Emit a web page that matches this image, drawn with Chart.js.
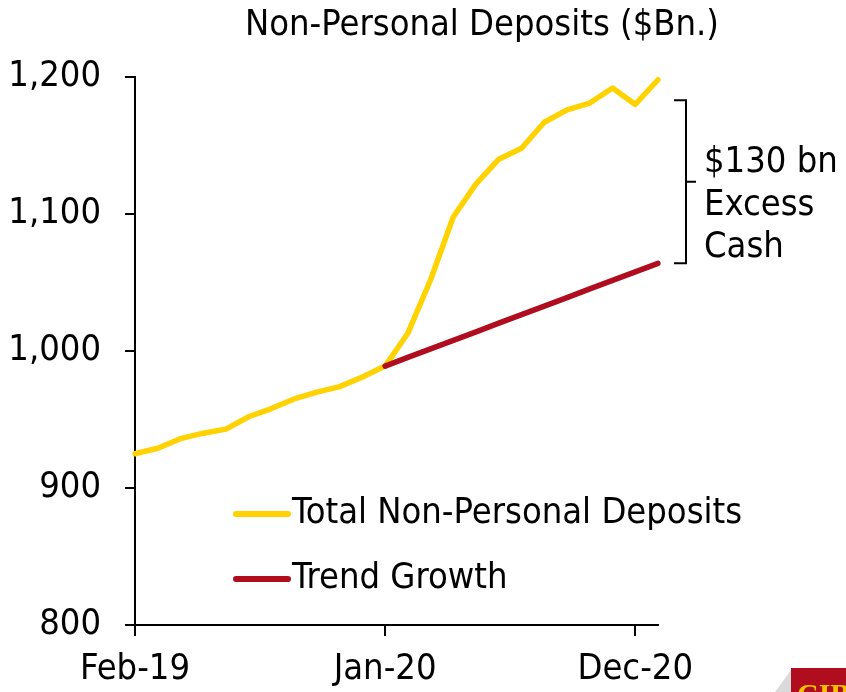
<!DOCTYPE html>
<html>
<head>
<meta charset="utf-8">
<script src="https://cdn.jsdelivr.net/npm/chart.js@4.4.1/dist/chart.umd.min.js"></script>
<style>
  html, body { margin: 0; padding: 0; background: #ffffff; }
  #wrap { position: relative; width: 846px; height: 692px; }
  canvas { display: block; }
</style>
</head>
<body>
<div id="wrap"><canvas id="c" width="846" height="692"></canvas></div>
<script>
// ---- Data ----
const chartTitle = "Non-Personal Deposits ($Bn.)";
const categories = ["Feb-19","Mar-19","Apr-19","May-19","Jun-19","Jul-19","Aug-19","Sep-19","Oct-19","Nov-19","Dec-19",
                    "Jan-20","Feb-20","Mar-20","Apr-20","May-20","Jun-20","Jul-20","Aug-20","Sep-20","Oct-20","Nov-20","Dec-20","Jan-21"];
const shownTickLabels = ["Feb-19","Jan-20","Dec-20"];
const depositsLabel = "Total Non-Personal Deposits";
const depositsValues = [925, 929, 936, 940, 943, 952, 958, 965, 970, 974, 981, 989,
                        1013, 1052, 1098, 1122, 1140, 1148, 1167, 1176, 1181, 1192, 1180, 1198];
const trendLabel = "Trend Growth";
const trendValues = [null, null, null, null, null, null, null, null, null, null, null, 989,
                     995.3, 1001.5, 1007.8, 1014, 1020.3, 1026.5, 1032.8, 1039, 1045.3, 1051.5, 1057.8, 1064];
const yTicks = [800, 900, 1000, 1100, 1200];
const annotationLines = ["$130 bn", "Excess", "Cash"];
const bracketTopValue = 1183;
const logoText = "CIBC";

const FONT = "'DejaVu Sans Condensed', 'DejaVu Sans', sans-serif";
const FSIZE = 36;
const YELLOW = '#FFD200';
const RED = '#B00D1E';

const overlayPlugin = {
  id: 'overlay',
  afterDraw(chart) {
    const ctx = chart.ctx;
    const ys = chart.scales.y;
    ctx.save();
    // title
    ctx.fillStyle = '#000';
    ctx.font = FSIZE + "px " + FONT;
    ctx.textAlign = 'center';
    ctx.textBaseline = 'middle';
    ctx.fillText(chartTitle, 482, 26);

    // legend
    const legendItems = chart.data.datasets.slice().sort((a, b) => a.legendIndex - b.legendIndex);
    legendItems.forEach((ds, i) => {
      const y = 514 + i * 65;
      ctx.strokeStyle = ds.borderColor;
      ctx.lineWidth = 6;
      ctx.lineCap = 'round';
      ctx.beginPath();
      ctx.moveTo(236, y);
      ctx.lineTo(288, y);
      ctx.stroke();
      ctx.fillStyle = '#000';
      ctx.textAlign = 'left';
      ctx.textBaseline = 'middle';
      ctx.font = FSIZE + "px " + FONT;
      ctx.fillText(ds.label, 292, y);
    });

    // bracket annotation
    const yTop = ys.getPixelForValue(bracketTopValue);
    const yBot = ys.getPixelForValue(trendValues[trendValues.length - 1]);
    const yMid = (yTop + yBot) / 2;
    ctx.strokeStyle = '#000';
    ctx.lineWidth = 2;
    ctx.lineCap = 'butt';
    ctx.beginPath();
    ctx.moveTo(674, yTop);
    ctx.lineTo(686, yTop);
    ctx.lineTo(686, yBot);
    ctx.lineTo(674, yBot);
    ctx.moveTo(686, yMid);
    ctx.lineTo(696, yMid);
    ctx.stroke();
    ctx.fillStyle = '#000';
    ctx.textAlign = 'left';
    ctx.textBaseline = 'middle';
    ctx.font = FSIZE + "px " + FONT;
    annotationLines.forEach((t, i) => ctx.fillText(t, 704, yMid - 19 + i * 42.5));

    // logo fragment bottom-right
    ctx.fillStyle = '#DADADA';
    ctx.beginPath();
    ctx.moveTo(775, 692);
    ctx.lineTo(791, 670);
    ctx.lineTo(791, 692);
    ctx.closePath();
    ctx.fill();
    ctx.fillStyle = '#B00D1E';
    ctx.fillRect(791, 668, 55, 24);
    ctx.fillStyle = '#F5C400';
    ctx.font = "bold 30px 'Liberation Serif', serif";
    ctx.textAlign = 'left';
    ctx.textBaseline = 'alphabetic';
    ctx.fillText(logoText, 797, 704);
    ctx.restore();
  }
};

new Chart(document.getElementById('c'), {
  type: 'line',
  data: {
    labels: categories,
    datasets: [
      { label: depositsLabel, data: depositsValues, borderColor: YELLOW, backgroundColor: YELLOW,
        borderWidth: 5.5, pointRadius: 0, tension: 0, order: 2, legendIndex: 0, borderCapStyle: 'round', borderJoinStyle: 'round' },
      { label: trendLabel, data: trendValues, borderColor: RED, backgroundColor: RED,
        borderWidth: 5.5, pointRadius: 0, tension: 0, order: 1, legendIndex: 1, spanGaps: false, borderCapStyle: 'round' }
    ]
  },
  options: {
    responsive: false,
    animation: false,
    events: [],
    layout: { padding: { top: 77, right: 188, bottom: 0, left: 0 } },
    plugins: { legend: { display: false }, title: { display: false }, tooltip: { enabled: false } },
    scales: {
      x: {
        type: 'category',
        offset: false,
        border: { display: true, color: '#000', width: 2 },
        grid: {
          drawOnChartArea: false, drawTicks: true, tickLength: 11, lineWidth: 2,
          color: (c) => shownTickLabels.includes(categories[c.index]) ? '#000' : 'rgba(0,0,0,0)'
        },
        ticks: {
          autoSkip: false, maxRotation: 0, minRotation: 0, padding: 12, color: '#000',
          font: { family: FONT, size: FSIZE },
          callback: (v, i) => shownTickLabels.includes(categories[i]) ? categories[i] : ''
        },
        afterFit: (s) => { s.height = 67; }
      },
      y: {
        min: 800, max: 1200,
        border: { display: true, color: '#000', width: 2 },
        grid: { drawOnChartArea: false, drawTicks: true, tickLength: 10, lineWidth: 2, color: '#000' },
        afterBuildTicks: (s) => { s.ticks = yTicks.map(v => ({ value: v })); },
        ticks: {
          padding: 24, color: '#000',
          font: { family: FONT, size: FSIZE },
          callback: (v) => v.toLocaleString('en-US')
        },
        afterFit: (s) => { s.width = 135; }
      }
    }
  },
  plugins: [overlayPlugin]
});
</script>
</body>
</html>
